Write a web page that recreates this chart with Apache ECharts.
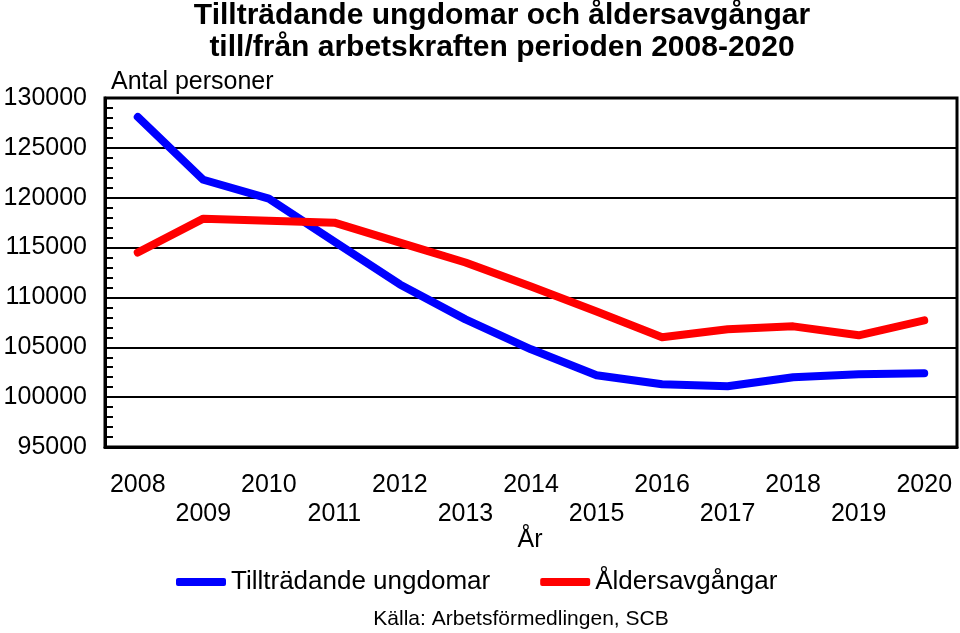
<!DOCTYPE html>
<html>
<head>
<meta charset="utf-8">
<script src="https://cdn.jsdelivr.net/npm/echarts@6/dist/echarts.min.js"></script>
<style>html,body{margin:0;padding:0;background:#fff}#c{width:960px;height:633px}</style>
</head>
<body>
<div id="c"></div>
<script>
var years = ['2008','2009','2010','2011','2012','2013','2014','2015','2016','2017','2018','2019','2020'];
var tilltradande = [128100,121800,119900,115600,111300,107800,104800,102200,101300,101100,102000,102300,102400];
var aldersavgangar = [114500,117900,117700,117500,115500,113500,111100,108600,106000,106800,107100,106200,107700];
var FONT = '"Liberation Sans", Arial, sans-serif';

var chart = echarts.init(document.getElementById('c'));
chart.setOption({
  animation: false,
  backgroundColor: '#fff',
  textStyle: { fontFamily: FONT },
  title: [
    { text: 'Tillträdande ungdomar och åldersavgångar\ntill/från arbetskraften perioden 2008-2020',
      left: 497, textAlign: 'center', top: -5,
      textStyle: { fontFamily: FONT, fontSize: 30, fontWeight: 'bold', color: '#000', lineHeight: 32 } },
    { text: 'Antal personer', left: 106, top: 65,
      textStyle: { fontFamily: FONT, fontSize: 25, fontWeight: 'normal', color: '#000' } },
    { text: 'År', left: 525, textAlign: 'center', top: 523,
      textStyle: { fontFamily: FONT, fontSize: 25, fontWeight: 'normal', color: '#000' } },
    { text: 'Källa: Arbetsförmedlingen, SCB', left: 516, textAlign: 'center', top: 604,
      textStyle: { fontFamily: FONT, fontSize: 21, fontWeight: 'normal', color: '#000' } }
  ],
  legend: {
    top: 564, left: 171,
    itemGap: 50,
    itemWidth: 50, itemHeight: 8,
    icon: 'roundRect',
    textStyle: { fontFamily: FONT, fontSize: 26, color: '#000' },
    data: ['Tillträdande ungdomar', 'Åldersavgångar']
  },
  grid: { left: 105, right: 3, top: 98, bottom: 186, show: true, borderColor: '#000', borderWidth: 3 },
  xAxis: {
    type: 'category',
    data: years,
    boundaryGap: true,
    axisLine: { lineStyle: { color: '#000', width: 3 } },
    axisTick: { alignWithLabel: true, inside: true, length: 9, lineStyle: { color: '#000', width: 2 } },
    axisLabel: {
      interval: 0, margin: 24, color: '#000', fontSize: 25, fontFamily: FONT, lineHeight: 29,
      formatter: function (v, i) { return i % 2 === 1 ? '\n' + v : v; }
    }
  },
  yAxis: {
    type: 'value', min: 95000, max: 130000, interval: 5000,
    axisLine: { show: true, lineStyle: { color: '#000', width: 3 } },
    axisTick: { show: true, inside: true, length: 8, lineStyle: { color: '#000', width: 2 } },
    minorTick: { show: true, splitNumber: 5, length: 8, lineStyle: { color: '#000', width: 2 } },
    splitLine: { show: true, lineStyle: { color: '#000', width: 2 } },
    axisLabel: { color: '#000', fontSize: 25, fontFamily: FONT, margin: 18,
      formatter: function (v) { return String(v); } }
  },
  series: [
    { name: 'Tillträdande ungdomar', type: 'line', data: tilltradande, symbol: 'none',
      color: '#0000ff', lineStyle: { width: 8, color: '#0000ff', cap: 'round', join: 'round' } },
    { name: 'Åldersavgångar', type: 'line', data: aldersavgangar, symbol: 'none',
      color: '#ff0000', lineStyle: { width: 8, color: '#ff0000', cap: 'round', join: 'round' } }
  ]
});
</script>
</body>
</html>
